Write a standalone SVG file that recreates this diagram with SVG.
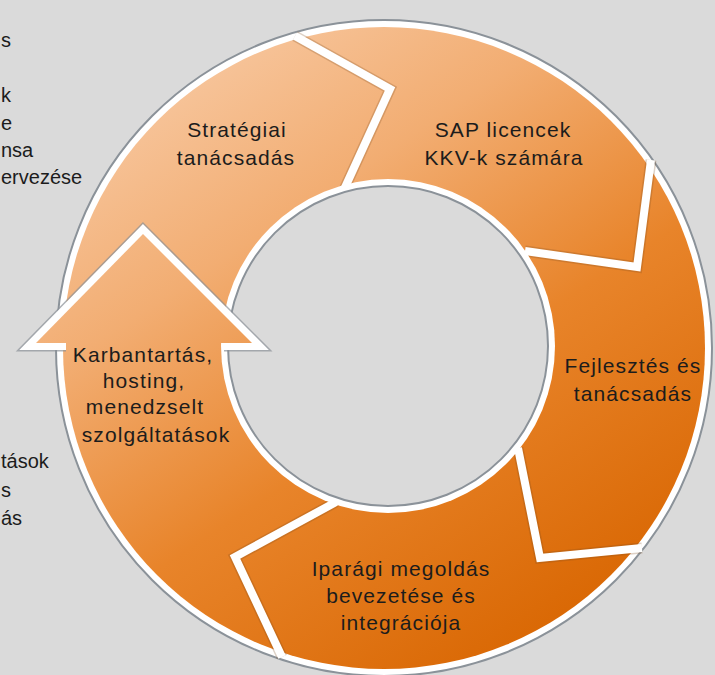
<svg xmlns="http://www.w3.org/2000/svg" width="715" height="675" viewBox="0 0 715 675">
  <defs>
    <linearGradient id="og" gradientUnits="userSpaceOnUse" x1="150" y1="40" x2="560" y2="660">
      <stop offset="0" stop-color="#f8cba6"/>
      <stop offset="0.3" stop-color="#f2ad72"/>
      <stop offset="0.6" stop-color="#e8842a"/>
      <stop offset="1" stop-color="#d86500"/>
    </linearGradient>
    <style>
      .lbl{font-family:"Liberation Sans","DejaVu Sans",sans-serif;font-size:21px;fill:#1c1c1c;text-anchor:middle;letter-spacing:1.1px}
      .side{font-family:"Liberation Sans","DejaVu Sans",sans-serif;font-size:20px;fill:#1c1c1c;text-anchor:start}
      .sepshadow{fill:none;stroke:#7a4a20;stroke-opacity:0.25;stroke-width:11;stroke-linejoin:miter}
      .sep{fill:none;stroke:#ffffff;stroke-width:8;stroke-linejoin:miter}
    </style>
  </defs>

  <rect x="0" y="0" width="715" height="675" fill="#dadada"/>

  <g id="side-text">
    <text class="side" x="1" y="47">s</text>
    <text class="side" x="1" y="102">k</text>
    <text class="side" x="1" y="130">e</text>
    <text class="side" x="1" y="157">nsa</text>
    <text class="side" x="1" y="184">ervezése</text>
    <text class="side" x="1" y="468">tások</text>
    <text class="side" x="1" y="497">s</text>
    <text class="side" x="1" y="525">ás</text>
  </g>

  <g id="ring">
    <circle cx="384" cy="348" r="328" fill="#ffffff" stroke="#8b9299" stroke-width="2"/>
    <circle cx="384" cy="348" r="321" fill="url(#og)"/>
  </g>

  <g id="connectors">
    <polyline class="sepshadow" points="295,36 390,89 342,194"/>
    <polyline class="sepshadow" points="651,160 637,267 525,251"/>
    <polyline class="sepshadow" points="518,448 540,558 642,548"/>
    <polyline class="sepshadow" points="336,502 235,557 282,657"/>
    <polyline class="sep" points="295,36 390,89 342,194"/>
    <polyline class="sep" points="651,160 637,267 525,251"/>
    <polyline class="sep" points="518,448 540,558 642,548"/>
    <polyline class="sep" points="336,502 235,557 282,657"/>
  </g>

  <g id="hole">
    <circle cx="388" cy="346" r="167" fill="#ffffff"/>
    <circle cx="388" cy="346" r="160" fill="#dadada" stroke="#8b9299" stroke-width="2"/>
  </g>

  <g id="node-strategiai">
    <text class="lbl" x="237" y="137">Stratégiai</text>
    <text class="lbl" x="236" y="165">tanácsadás</text>
  </g>

  <g id="node-sap">
    <text class="lbl" x="503" y="137">SAP licencek</text>
    <text class="lbl" x="504" y="165">KKV-k számára</text>
  </g>

  <g id="node-fejlesztes">
    <text class="lbl" x="633" y="373">Fejlesztés és</text>
    <text class="lbl" x="633" y="401">tanácsadás</text>
  </g>

  <g id="node-iparagi">
    <text class="lbl" x="401" y="576">Iparági megoldás</text>
    <text class="lbl" x="401" y="603">bevezetése és</text>
    <text class="lbl" x="401" y="630">integrációja</text>
  </g>

  <g id="node-karbantartas">
    <polyline points="66,343 36,343 143,234 252,343 224,343" fill="none" stroke="#8b9299" stroke-opacity="0.7" stroke-width="17" stroke-linejoin="miter"/>
    <polyline points="66,343 36,343 143,234 252,343 224,343" fill="none" stroke="#ffffff" stroke-width="14" stroke-linejoin="miter"/>
    <path d="M36,343 L143,234 L252,343 Z" fill="url(#og)"/>
    <text class="lbl" x="143" y="362">Karbantartás,</text>
    <text class="lbl" x="144" y="388">hosting,</text>
    <text class="lbl" x="145" y="414">menedzselt</text>
    <text class="lbl" x="156" y="442">szolgáltatások</text>
  </g>
</svg>
